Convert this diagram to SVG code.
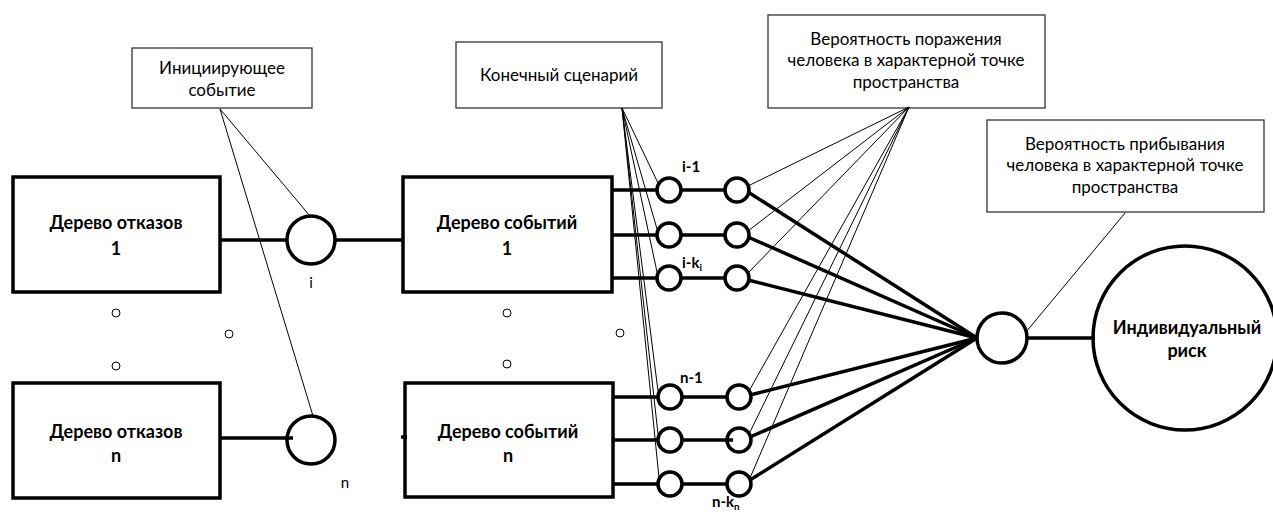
<svg xmlns="http://www.w3.org/2000/svg" width="1273" height="514" viewBox="0 0 1273 514">
  <style>
    text { font-family: Lato, "Open Sans", "Liberation Sans", sans-serif; fill: #000; }
    .lbl { font-size: 17px; text-anchor: middle; }
    .bold { font-size: 18px; font-weight: bold; text-anchor: middle; }
    .tag { font-size: 15px; font-weight: bold; }
    .note { font-size: 15px; text-anchor: middle; }
    .box { fill: #fff; stroke: #000; stroke-width: 3.5; }
    .callout { fill: #fff; stroke: #333; stroke-width: 1.3; }
    .node { fill: #fff; stroke: #000; stroke-width: 3.5; }
    .dot { fill: #fff; stroke: #000; stroke-width: 1; }
    .thick { stroke: #000; stroke-width: 3.5; fill: none; }
    .thin { stroke: #000; stroke-width: 1; fill: none; }
  </style>

  <!-- callout boxes -->
  <g id="callout-initiating">
    <rect class="callout" x="132" y="48" width="180" height="60"/>
    <text class="lbl" x="222" y="74">Инициирующее</text>
    <text class="lbl" x="222" y="96">событие</text>
  </g>
  <g id="callout-scenario">
    <rect class="callout" x="456" y="42" width="206" height="66"/>
    <text class="lbl" x="559" y="81">Конечный сценарий</text>
  </g>
  <g id="callout-damage">
    <rect class="callout" x="768" y="15" width="277" height="93"/>
    <text class="lbl" x="906" y="45">Вероятность поражения</text>
    <text class="lbl" x="906" y="66">человека в характерной точке</text>
    <text class="lbl" x="906" y="88">пространства</text>
  </g>
  <g id="callout-presence">
    <rect class="callout" x="987" y="120" width="277" height="92"/>
    <text class="lbl" x="1125" y="150">Вероятность прибывания</text>
    <text class="lbl" x="1125" y="171">человека в характерной точке</text>
    <text class="lbl" x="1125" y="193">пространства</text>
  </g>

  <!-- fault trees -->
  <g id="fault-tree-1">
    <rect class="box" x="13" y="177" width="207" height="115"/>
    <text class="bold" x="116" y="229">Дерево отказов</text>
    <text class="bold" x="116" y="255">1</text>
  </g>
  <g id="fault-tree-n">
    <rect class="box" x="13" y="383" width="207" height="115"/>
    <text class="bold" x="116" y="438">Дерево отказов</text>
    <text class="bold" x="116" y="462">n</text>
  </g>

  <!-- initiating event nodes -->
  <g id="event-i">
    <circle class="node" cx="311" cy="240" r="24"/>
    <text class="note" x="311" y="288">i</text>
  </g>
  <g id="event-n">
    <circle class="node" cx="311" cy="440" r="24"/>
    <text class="note" x="345" y="488">n</text>
  </g>

  <!-- event trees -->
  <g id="event-tree-1">
    <rect class="box" x="403" y="177" width="209" height="115"/>
    <text class="bold" x="507" y="229">Дерево событий</text>
    <text class="bold" x="507" y="255">1</text>
  </g>
  <g id="event-tree-n">
    <rect class="box" x="405" y="383" width="208" height="114"/>
    <text class="bold" x="508" y="438">Дерево событий</text>
    <text class="bold" x="508" y="462">n</text>
  </g>

  <!-- ellipsis dots -->
  <g id="ellipsis">
    <circle class="dot" cx="116" cy="313" r="4"/>
    <circle class="dot" cx="116" cy="366" r="4"/>
    <circle class="dot" cx="229" cy="334" r="4"/>
    <circle class="dot" cx="507" cy="313" r="4"/>
    <circle class="dot" cx="507" cy="364" r="4"/>
    <circle class="dot" cx="620" cy="333" r="4"/>
  </g>

  <!-- final scenario nodes -->
  <g id="scenario-nodes">
    <circle class="node" cx="669" cy="190" r="12"/>
    <circle class="node" cx="669" cy="235" r="12"/>
    <circle class="node" cx="669" cy="278" r="12"/>
    <circle class="node" cx="670" cy="397" r="12"/>
    <circle class="node" cx="670" cy="440" r="12"/>
    <circle class="node" cx="670" cy="484" r="12"/>
    <text class="tag" x="682" y="172">i-1</text>
    <text class="tag" x="682" y="268">i-k<tspan font-size="10" dy="3">i</tspan></text>
    <text class="tag" x="680" y="383">n-1</text>
    <text class="tag" x="712" y="507">n-k<tspan font-size="10" dy="3">n</tspan></text>
  </g>

  <!-- damage probability nodes -->
  <g id="damage-nodes">
    <circle class="node" cx="737" cy="190" r="12"/>
    <circle class="node" cx="737" cy="235" r="12"/>
    <circle class="node" cx="737" cy="278" r="12"/>
    <circle class="node" cx="739" cy="397" r="12"/>
    <circle class="node" cx="739" cy="440" r="12"/>
    <circle class="node" cx="739" cy="484" r="12"/>
  </g>

  <!-- aggregation node and result -->
  <g id="aggregate">
    <circle class="node" cx="1002" cy="338" r="25"/>
  </g>
  <g id="individual-risk">
    <circle class="node" cx="1185" cy="338" r="92"/>
    <text class="bold" x="1187" y="334">Индивидуальный</text>
    <text class="bold" x="1187" y="357">риск</text>
  </g>

  <!-- connectors -->
  <g id="connectors">
    <!-- fault trees to initiating events to event trees -->
    <line class="thick" x1="220" y1="240" x2="287" y2="240"/>
    <line class="thick" x1="335" y1="240" x2="403" y2="240"/>
    <line class="thick" x1="220" y1="438" x2="293" y2="438"/>
    <line class="thick" x1="401" y1="437" x2="407" y2="437"/>

    <!-- event tree outputs -->
    <line class="thick" x1="612" y1="190" x2="657" y2="190"/>
    <line class="thick" x1="612" y1="235" x2="657" y2="235"/>
    <line class="thick" x1="612" y1="278" x2="657" y2="278"/>
    <line class="thick" x1="613" y1="397" x2="658" y2="397"/>
    <line class="thick" x1="613" y1="440" x2="658" y2="440"/>
    <line class="thick" x1="613" y1="484" x2="658" y2="484"/>

    <!-- scenario to damage -->
    <line class="thick" x1="681" y1="190" x2="725" y2="190"/>
    <line class="thick" x1="681" y1="235" x2="725" y2="235"/>
    <line class="thick" x1="681" y1="278" x2="725" y2="278"/>
    <line class="thick" x1="682" y1="397" x2="727" y2="397"/>
    <line class="thick" x1="682" y1="440" x2="733" y2="440"/>
    <line class="thick" x1="682" y1="484" x2="727" y2="484"/>

    <!-- damage to aggregate -->
    <line class="thick" x1="748" y1="192" x2="977" y2="338"/>
    <line class="thick" x1="748" y1="237" x2="977" y2="338"/>
    <line class="thick" x1="748" y1="280" x2="977" y2="338"/>
    <line class="thick" x1="750" y1="395" x2="977" y2="338"/>
    <line class="thick" x1="750" y1="437" x2="977" y2="338"/>
    <line class="thick" x1="750" y1="480" x2="977" y2="338"/>

    <!-- aggregate to risk -->
    <line class="thick" x1="1027" y1="338" x2="1095" y2="338"/>

    <!-- callout leaders -->
    <line class="thin" x1="220" y1="109" x2="310" y2="216"/>
    <line class="thin" x1="220" y1="109" x2="313" y2="416"/>

    <line class="thin" x1="622" y1="108" x2="658" y2="183"/>
    <line class="thin" x1="622" y1="108" x2="657" y2="229"/>
    <line class="thin" x1="622" y1="108" x2="657" y2="272"/>
    <line class="thin" x1="622" y1="108" x2="658" y2="391"/>
    <line class="thin" x1="622" y1="108" x2="658" y2="434"/>
    <line class="thin" x1="622" y1="108" x2="659" y2="478"/>

    <line class="thin" x1="909" y1="107" x2="748" y2="186"/>
    <line class="thin" x1="909" y1="107" x2="748" y2="231"/>
    <line class="thin" x1="909" y1="107" x2="748" y2="273"/>
    <line class="thin" x1="909" y1="107" x2="749" y2="391"/>
    <line class="thin" x1="909" y1="107" x2="749" y2="434"/>
    <line class="thin" x1="909" y1="107" x2="750" y2="478"/>

    <line class="thin" x1="1125" y1="213" x2="1026" y2="332"/>
  </g>
</svg>
